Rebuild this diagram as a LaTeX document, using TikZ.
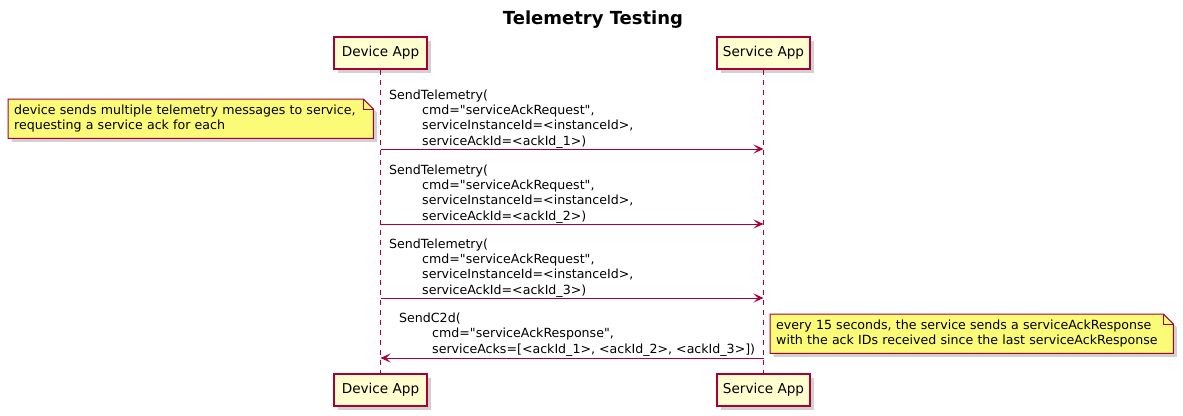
\documentclass[tikz,border=0pt]{standalone}
\usepackage{fontspec}
\setmainfont{DejaVu Sans}
\usetikzlibrary{arrows.meta, shadows, backgrounds}
\definecolor{umlred}{HTML}{A80036}
\definecolor{partfill}{HTML}{FEFECE}
\definecolor{notefill}{HTML}{FBFB77}
\tikzset{part/.style={rectangle,draw=umlred,fill=partfill,line width=1.2pt,minimum width=93pt,minimum height=32pt,font=\fontsize{13.6}{15}\selectfont,drop shadow={shadow xshift=3.5pt,shadow yshift=-3.5pt,fill=black!30,opacity=0.6}},life/.style={draw=umlred,dash pattern=on 5pt off 5pt,line width=0.8pt},msg/.style={draw=umlred,line width=0.9pt,-{Stealth[length=10pt,width=9pt,inset=4.5pt]}},msgtext/.style={align=left,inner sep=0pt,anchor=base west,font=\fontsize{12.6}{15.3}\selectfont},notetext/.style={align=left,inner xsep=6pt,inner ysep=0pt,anchor=north west,minimum height=39pt,font=\fontsize{12.6}{15.5}\selectfont},notebox/.style={draw=umlred,fill=notefill,line width=1pt,drop shadow={shadow xshift=3.5pt,shadow yshift=-3.5pt,fill=black!30,opacity=0.6}}}
\newcommand{\qt}{\textquotedbl}

\begin{document}
\begin{tikzpicture}[x=1pt,y=-1pt]
\useasboundingbox (0,0) rectangle (1183,415);
\node[font=\bfseries\fontsize{18}{20}\selectfont] (title) at (593,20) {Telemetry Testing};
\node[part] (devTop) at (380.5,53) {Device App};
\node[part] (srvTop) at (763.5,53) {Service App};
\node[part] (devBot) at (380.5,390) {Device App};
\node[part] (srvBot) at (763.5,390) {Service App};
\draw[life] (devTop.south) -- (devBot.north);
\draw[life] (srvTop.south) -- (srvBot.north);
% message end points
\coordinate (d1) at (devTop |- 0,149);
\coordinate (s1) at (srvTop |- 0,149);
\coordinate (d2) at (devTop |- 0,224);
\coordinate (s2) at (srvTop |- 0,224);
\coordinate (d3) at (devTop |- 0,298);
\coordinate (s3) at (srvTop |- 0,298);
\coordinate (d4) at (devTop |- 0,358);
\coordinate (s4) at (srvTop |- 0,358);
\node[msgtext] (m1) at (389,145) {SendTelemetry(\\\hspace*{33pt}cmd=\qt serviceAckRequest\qt,\\\hspace*{33pt}serviceInstanceId=<instanceId>,\\\hspace*{33pt}serviceAckId=<ackId\_1>)};
\node[msgtext] (m2) at (389,220) {SendTelemetry(\\\hspace*{33pt}cmd=\qt serviceAckRequest\qt,\\\hspace*{33pt}serviceInstanceId=<instanceId>,\\\hspace*{33pt}serviceAckId=<ackId\_2>)};
\node[msgtext] (m3) at (389,294) {SendTelemetry(\\\hspace*{33pt}cmd=\qt serviceAckRequest\qt,\\\hspace*{33pt}serviceInstanceId=<instanceId>,\\\hspace*{33pt}serviceAckId=<ackId\_3>)};
\node[msgtext] (m4) at (399,353) {SendC2d(\\\hspace*{33pt}cmd=\qt serviceAckResponse\qt,\\\hspace*{33pt}serviceAcks=[<ackId\_1>, <ackId\_2>, <ackId\_3>])};
\draw[msg] (d1) -- (s1);
\draw[msg] (d2) -- (s2);
\draw[msg] (d3) -- (s3);
\draw[msg] (s4) -- (d4);
% notes
\node[notetext,text width=353pt] (n1) at (8,99) {device sends multiple telemetry messages to service,\\requesting a service ack for each};
\node[notetext,text width=391pt] (n2) at (770,314) {every 15 seconds, the service sends a serviceAckResponse\\with the ack IDs received since the last serviceAckResponse};
\begin{scope}[on background layer]
\filldraw[notebox] (n1.south west) -- (n1.north west) -- ([xshift=-10pt]n1.north east) -- ([yshift=-10pt]n1.north east) -- (n1.south east) -- cycle;
\draw[umlred,line width=1pt] ([xshift=-10pt]n1.north east) |- ([yshift=-10pt]n1.north east);
\filldraw[notebox] (n2.south west) -- (n2.north west) -- ([xshift=-10pt]n2.north east) -- ([yshift=-10pt]n2.north east) -- (n2.south east) -- cycle;
\draw[umlred,line width=1pt] ([xshift=-10pt]n2.north east) |- ([yshift=-10pt]n2.north east);
\end{scope}
\end{tikzpicture}
\end{document}
